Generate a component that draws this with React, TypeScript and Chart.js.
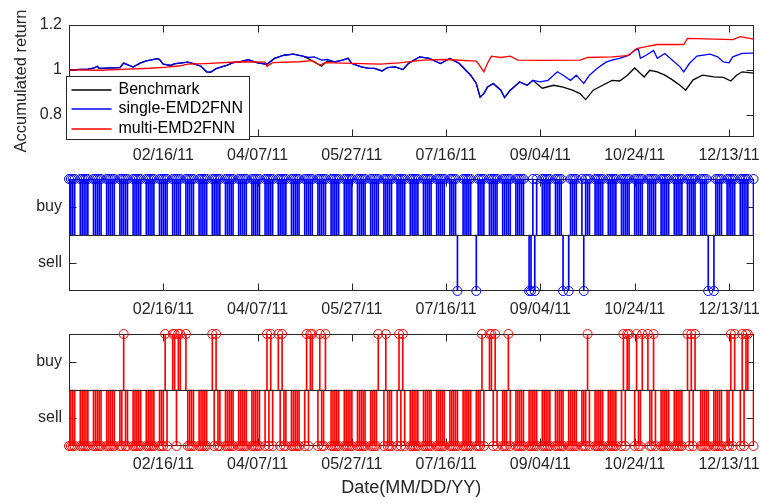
import React, { useEffect, useRef } from 'react';
import { Chart, registerables } from 'chart.js';

Chart.register(...registerables);

// ---------- data ----------
const START_UTC = Date.UTC(2010, 11, 28); // day 0 = 12/28/10
const DAY_MS = 86400000;
const X_MIN = 0;
const X_MAX = 363; // 12/26/11

const xTickDays = [50, 100, 150, 200, 250, 300, 350];
const returnTicks = [0.8, 1, 1.2];
const returnTickLabels = ['0.8', '1', '1.2'];
const signalTicks = [-0.5, 0.5];
const signalTickLabels = ['sell', 'buy'];

const seriesLabels = ['Benchmark', 'single-EMD2FNN', 'multi-EMD2FNN'];
const seriesColors = ['#000000', '#0000ff', '#ff0000'];

const benchmarkDays = [0,10,13,15,16,27,29,34,38,41,47,48,50,54,56,63,66,70,73,75,78,84,87,91,95,100,105,109,114,119,124,127,130,134,137,141,145,148,150,155,159,162,166,169,173,177,180,183,186,191,197,202,207,213,216,218,220,222,225,229,231,234,239,243,246,251,257,262,267,271,274,278,283,288,292,296,300,305,308,312,316,320,324,327,331,336,342,347,351,354,357,363];
const benchmarkValues = [1.000,1.003,1.007,1.016,1.006,1.010,1.030,1.012,1.031,1.040,1.050,1.046,1.025,1.018,1.026,1.034,1.028,1.016,0.991,0.989,1.005,1.021,1.032,1.036,1.045,1.031,1.025,1.051,1.065,1.070,1.061,1.050,1.035,1.016,1.040,1.035,1.043,1.051,1.028,1.013,1.006,1.006,0.995,1.010,1.013,1.001,1.028,1.043,1.058,1.051,1.028,1.051,1.028,0.976,0.939,0.878,0.894,0.923,0.939,0.909,0.876,0.909,0.946,0.931,0.953,0.918,0.931,0.923,0.909,0.894,0.867,0.909,0.931,0.953,0.950,0.975,1.008,0.968,0.998,0.991,0.976,0.955,0.931,0.909,0.955,0.976,0.968,0.966,0.950,0.976,0.991,0.985];

const singleDays = [0,10,13,15,16,27,29,34,38,41,47,48,50,54,56,63,66,70,73,75,78,84,87,91,95,100,105,109,114,119,124,127,130,134,137,141,145,148,150,155,159,162,166,169,173,177,180,183,186,191,197,202,207,213,216,218,220,222,225,229,231,234,239,243,246,250,254,259,262,266,269,273,276,280,285,288,292,297,300,302,303,306,310,312,316,320,324,326,329,333,340,344,347,350,352,357,363];
const singleValues = [1.000,1.003,1.007,1.016,1.006,1.010,1.030,1.012,1.031,1.040,1.050,1.046,1.025,1.021,1.028,1.034,1.028,1.016,0.991,0.989,1.005,1.021,1.032,1.036,1.045,1.031,1.025,1.051,1.065,1.070,1.061,1.055,1.058,1.043,1.046,1.035,1.043,1.051,1.028,1.013,1.006,1.006,0.995,1.010,1.013,1.001,1.028,1.043,1.058,1.051,1.028,1.051,1.028,0.976,0.939,0.878,0.894,0.923,0.939,0.909,0.876,0.909,0.946,0.931,0.953,0.946,0.953,0.991,0.976,0.953,0.976,0.939,0.976,1.006,1.035,1.043,1.051,1.065,1.088,1.091,1.051,1.065,1.086,1.051,1.073,1.043,1.013,0.991,1.028,1.061,1.070,1.058,1.035,1.031,1.058,1.073,1.074];

const multiDays = [0,16,31,43,52,59,63,72,91,104,105,108,122,129,133,136,165,175,188,200,216,218,220,222,224,229,234,238,250,271,275,288,296,299,301,306,312,326,328,352,356,363];
const multiValues = [1.000,0.998,1.003,1.007,1.012,1.018,1.025,1.028,1.036,1.034,1.016,1.032,1.036,1.041,1.021,1.032,1.025,1.031,1.043,1.046,1.039,1.016,0.991,1.030,1.061,1.055,1.061,1.043,1.042,1.043,1.055,1.058,1.063,1.079,1.095,1.103,1.113,1.113,1.140,1.135,1.148,1.137];

// trading signals: days (offset from 12/28/10) that differ from the dominant signal
const singleSellDays = [206,216,244,245,247,262,265,273,339,342];
const multiBuyDays = [29,51,55,56,58,59,62,76,78,105,107,111,113,126,128,129,133,136,164,168,175,177,219,223,224,226,233,275,294,296,297,301,304,307,310,328,330,332,351,353,357,359,360];

// calendar of weekdays in the window
const tradingDays: number[] = [];
for (let d = X_MIN; d <= X_MAX; d++) {
  const wd = new Date(START_UTC + d * DAY_MS).getUTCDay();
  if (wd !== 0 && wd !== 6) tradingDays.push(d);
}
const singleSignal = tradingDays.map((d) => (singleSellDays.includes(d) ? -1 : 1));
const multiSignal = tradingDays.map((d) => (multiBuyDays.includes(d) ? 1 : -1));

// ---------- helpers ----------
const FONT = '"Liberation Sans", Arial, Helvetica, sans-serif';
const AXIS_COLOR = '#262626';
const pad2 = (n: number) => (n < 10 ? '0' + n : String(n));
function fmtDay(v: number) {
  const dt = new Date(START_UTC + v * DAY_MS);
  return `${pad2(dt.getUTCMonth() + 1)}/${pad2(dt.getUTCDate())}/${pad2(dt.getUTCFullYear() % 100)}`;
}
const zip = (xs: number[], ys: number[]) => xs.map((x, i) => ({ x, y: ys[i] }));

const matlabAxes = {
  id: 'matlabAxes',
  beforeDatasetsDraw(chart: any) {
    const { ctx, chartArea: a, scales } = chart;
    const L = Math.round(a.left) + 0.5;
    const R = Math.round(a.right) - 0.5;
    const T = Math.round(a.top) + 0.5;
    const B = Math.round(a.bottom) - 0.5;
    const tl = 7;
    ctx.save();
    ctx.strokeStyle = AXIS_COLOR;
    ctx.lineWidth = 1;
    ctx.strokeRect(L, T, R - L, B - T);
    ctx.beginPath();
    scales.x.ticks.forEach((t: any) => {
      const px = Math.round(scales.x.getPixelForValue(t.value)) + 0.5;
      ctx.moveTo(px, B); ctx.lineTo(px, B - tl);
      ctx.moveTo(px, T); ctx.lineTo(px, T + tl);
    });
    scales.y.ticks.forEach((t: any) => {
      const py = Math.round(scales.y.getPixelForValue(t.value)) + 0.5;
      ctx.moveTo(L, py); ctx.lineTo(L + tl, py);
      ctx.moveTo(R, py); ctx.lineTo(R - tl, py);
    });
    ctx.stroke();
    ctx.restore();
  },
  afterDatasetsDraw(chart: any, _args: any, opts: any) {
    if (!opts || !opts.baseline) return;
    const { ctx, chartArea: a, scales } = chart;
    const py = Math.round(scales.y.getPixelForValue(0)) + 0.5;
    ctx.save();
    ctx.strokeStyle = AXIS_COLOR;
    ctx.lineWidth = 1;
    ctx.beginPath();
    ctx.moveTo(Math.round(a.left), py);
    ctx.lineTo(Math.round(a.right), py);
    ctx.stroke();
    ctx.restore();
  },
};

const boxLegend = {
  id: 'boxLegend',
  afterDraw(chart: any) {
    const { ctx, chartArea: a } = chart;
    const x0 = Math.round(a.left) - 2.5;
    const y0 = Math.round(a.top) + 51.5;
    const w = 183, h = 63;
    ctx.save();
    ctx.fillStyle = '#ffffff';
    ctx.fillRect(x0, y0, w, h);
    ctx.lineWidth = 1;
    ctx.strokeStyle = AXIS_COLOR;
    ctx.strokeRect(x0, y0, w, h);
    ctx.font = `16px ${FONT}`;
    ctx.textBaseline = 'middle';
    ctx.textAlign = 'left';
    const rows = [13, 32, 52];
    seriesLabels.forEach((label, i) => {
      const y = Math.round(y0 + rows[i]);
      ctx.beginPath();
      ctx.strokeStyle = seriesColors[i];
      ctx.lineWidth = 1.6;
      ctx.moveTo(x0 + 5, y);
      ctx.lineTo(x0 + 45, y);
      ctx.stroke();
      ctx.fillStyle = '#000000';
      ctx.fillText(label, x0 + 52, y);
    });
    ctx.restore();
  },
};

function xScale(axisHeight: number, title?: string) {
  return {
    type: 'linear',
    min: X_MIN,
    max: X_MAX,
    offset: false,
    grid: { display: false, drawTicks: false },
    border: { display: false },
    afterBuildTicks: (s: any) => { s.ticks = xTickDays.map((v) => ({ value: v })); },
    afterFit: (s: any) => { s.height = axisHeight; s.paddingLeft = 0; s.paddingRight = 0; },
    ticks: {
      callback: (v: any) => fmtDay(Number(v)),
      font: { size: 16, family: FONT },
      color: AXIS_COLOR,
      padding: 9,
      maxRotation: 0,
      autoSkip: false,
    },
    title: title
      ? { display: true, text: title, font: { size: 18, family: FONT }, color: AXIS_COLOR, padding: { top: 0, bottom: 4 } }
      : { display: false },
  };
}

function yScale(min: number, max: number, ticks: number[], labels: string[], title?: string) {
  return {
    type: 'linear',
    min,
    max,
    grid: { display: false, drawTicks: false },
    border: { display: false },
    afterBuildTicks: (s: any) => { s.ticks = ticks.map((v) => ({ value: v })); },
    afterFit: (s: any) => { s.width = 69; s.paddingTop = 0; s.paddingBottom = 0; },
    ticks: {
      callback: (v: any) => labels[ticks.indexOf(Number(v))],
      font: { size: 16, family: FONT },
      color: AXIS_COLOR,
      padding: 7,
      autoSkip: false,
    },
    title: title
      ? { display: true, text: title, font: { size: 16.5, family: FONT }, color: AXIS_COLOR, padding: { top: 12, bottom: 0 } }
      : { display: false },
  };
}

function returnConfig(): any {
  const days = [benchmarkDays, singleDays, multiDays];
  const values = [benchmarkValues, singleValues, multiValues];
  return {
    type: 'line',
    data: {
      datasets: seriesLabels.map((label, i) => ({
        label,
        data: zip(days[i], values[i]),
        borderColor: seriesColors[i],
        backgroundColor: seriesColors[i],
        order: 2 - i,
        borderWidth: 1.3,
        pointRadius: 0,
        tension: 0,
        fill: false,
      })),
    },
    options: {
      animation: false,
      responsive: true,
      maintainAspectRatio: false,
      layout: { padding: { top: 25, left: 0, right: 7.5, bottom: 0 } },
      plugins: { legend: { display: false }, tooltip: { enabled: false } },
      scales: {
        x: xScale(31),
        y: yScale(0.7, 1.2, returnTicks, returnTickLabels, 'Accumulated return'),
      },
    },
    plugins: [matlabAxes, boxLegend],
  };
}

function signalConfig(signal: number[], color: string, padTop: number, axisHeight: number, title?: string): any {
  const pts = zip(tradingDays, signal);
  return {
    type: 'bar',
    data: {
      datasets: [
        { type: 'bar', data: pts, backgroundColor: color, borderWidth: 0, barThickness: 1, order: 2 },
        {
          type: 'line', data: pts, showLine: false, pointStyle: 'circle', pointRadius: 4.5,
          pointBorderWidth: 1, pointBorderColor: color, pointBackgroundColor: 'rgba(0,0,0,0)',
          borderColor: color, clip: false, order: 1,
        },
      ],
    },
    options: {
      animation: false,
      responsive: true,
      maintainAspectRatio: false,
      layout: { padding: { top: padTop, left: 0, right: 7.5, bottom: 0 } },
      plugins: { legend: { display: false }, tooltip: { enabled: false }, matlabAxes: { baseline: true } },
      scales: {
        x: xScale(axisHeight, title),
        y: yScale(-1, 1, signalTicks, signalTickLabels),
      },
    },
    plugins: [matlabAxes],
  };
}

export default function App() {
  const r1 = useRef<HTMLCanvasElement>(null);
  const r2 = useRef<HTMLCanvasElement>(null);
  const r3 = useRef<HTMLCanvasElement>(null);

  useEffect(() => {
    Chart.defaults.font.family = FONT;
    const charts = [
      new Chart(r1.current as HTMLCanvasElement, returnConfig()),
      new Chart(r2.current as HTMLCanvasElement, signalConfig(singleSignal, '#0000ff', 11, 35)),
      new Chart(r3.current as HTMLCanvasElement, signalConfig(multiSignal, '#ff0000', 8, 57, 'Date(MM/DD/YY)')),
    ];
    return () => charts.forEach((c) => c.destroy());
  }, []);

  const box = (top: number, height: number): React.CSSProperties => ({
    position: 'absolute', left: 0, top, width: 761, height,
  });

  return (
    <div style={{ position: 'fixed', left: 0, top: 0, width: 761, height: 503, background: '#ffffff', overflow: 'hidden' }}>
      <div style={box(0, 168)}><canvas ref={r1} /></div>
      <div style={box(168, 158)}><canvas ref={r2} /></div>
      <div style={box(326, 177)}><canvas ref={r3} /></div>
    </div>
  );
}
